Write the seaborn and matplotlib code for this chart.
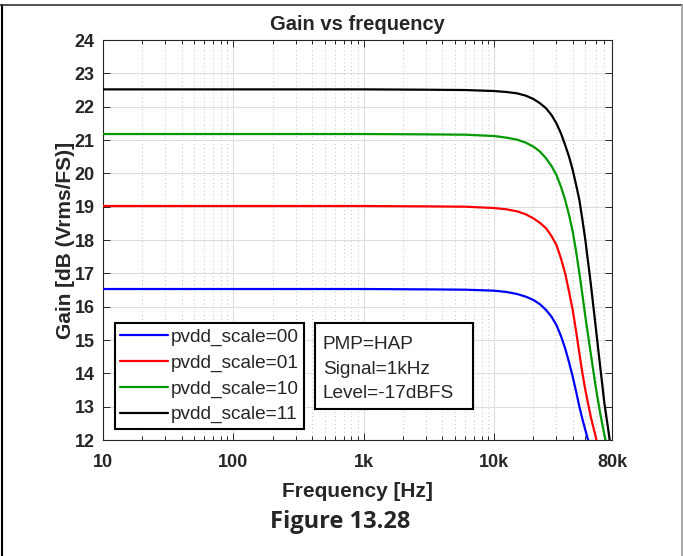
import numpy as np
import pandas as pd
import matplotlib.pyplot as plt
import matplotlib.ticker as mticker
from matplotlib.lines import Line2D
from matplotlib.patches import Rectangle
import seaborn as sns

# Data
freq = [10, 1000, 3000, 6000, 10000, 12500, 15000, 17500, 20000, 22500, 25000,
        27500, 30000, 32500, 35000, 37500, 40000, 42500, 45000, 47500, 50000,
        55000, 60000, 65000, 70000, 75000, 80000]
gain_00 = [16.53, 16.53, 16.52, 16.51, 16.48, 16.44, 16.38, 16.30, 16.20, 16.07, 15.90,
           15.70, 15.45, 15.12, 14.75, 14.33, 13.90, 13.45, 13.00, 12.62, 12.30,
           11.70, 11.20, 10.80, 10.40, 10.00, 9.70]
gain_01 = [19.02, 19.02, 19.01, 19.00, 18.96, 18.92, 18.86, 18.77, 18.65, 18.51, 18.35,
           18.12, 17.85, 17.45, 17.00, 16.45, 15.90, 15.25, 14.60, 14.00, 13.50,
           12.70, 12.10, 11.50, 11.00, 10.60, 10.20]
gain_10 = [21.18, 21.18, 21.17, 21.16, 21.12, 21.07, 21.01, 20.92, 20.80, 20.65, 20.45,
           20.22, 19.95, 19.60, 19.20, 18.75, 18.25, 17.65, 17.00, 16.35, 15.70,
           14.60, 13.60, 12.80, 12.15, 11.60, 11.10]
gain_11 = [22.52, 22.52, 22.51, 22.50, 22.47, 22.44, 22.40, 22.33, 22.23, 22.10, 21.95,
           21.75, 21.50, 21.20, 20.85, 20.50, 20.10, 19.65, 19.20, 18.60, 18.00,
           16.70, 15.40, 14.20, 13.10, 12.30, 11.50]
series = ["pvdd_scale=00", "pvdd_scale=01", "pvdd_scale=10", "pvdd_scale=11"]
colors = ["#0000ff", "#ff0000", "#009900", "#000000"]
info_lines = ["PMP=HAP", "Signal=1kHz", "Level=-17dBFS"]
xticks = [10, 100, 1000, 10000, 80000]
xtick_labels = ["10", "100", "1k", "10k", "80k"]

df = pd.DataFrame({
    "freq": freq * 4,
    "gain": gain_00 + gain_01 + gain_10 + gain_11,
    "series": np.repeat(series, len(freq)),
})

sns.set_theme(style="ticks")
plt.rcParams["font.family"] = ["Liberation Sans", "DejaVu Sans"]

fig = plt.figure(figsize=(6.83, 5.56), dpi=100)
ax = fig.add_axes([0.1508, 0.2086, 0.7452, 0.7194])

sns.lineplot(data=df, x="freq", y="gain", hue="series", palette=colors,
             linewidth=1.6, ax=ax, legend=False, zorder=3)

ax.set_xscale("log")
ax.set_xlim(10, 80000)
ax.set_ylim(12, 24)
ax.set_xticks(xticks)
ax.set_xticklabels(xtick_labels)
ax.xaxis.set_minor_locator(mticker.LogLocator(base=10, subs=np.arange(2, 10)))
ax.xaxis.set_minor_formatter(mticker.NullFormatter())
ax.set_yticks(range(12, 25))

# MATLAB style box, grid and ticks
ax.grid(True, which="major", color="#dedede", linewidth=0.8, linestyle="-")
ax.grid(True, which="minor", axis="x", color="#c4c4c4", linewidth=0.7, linestyle=(0, (1, 3)))
for s in ax.spines.values():
    s.set_visible(True)
    s.set_color("#262626")
    s.set_linewidth(0.8)
ax.tick_params(which="both", direction="in", top=True, right=True, color="#262626", width=0.7)
ax.tick_params(which="major", length=5)
ax.tick_params(which="minor", length=3)
ax.tick_params(axis="x", which="major", pad=10, labelsize=13, labelcolor="#262626")
ax.tick_params(axis="y", which="major", pad=6, labelsize=13, labelcolor="#262626")
for lbl in ax.get_xticklabels() + ax.get_yticklabels():
    lbl.set_fontweight("bold")

ax.set_title("Gain vs frequency", fontsize=14.5, fontweight="bold", pad=7)
ax.set_xlabel("Frequency [Hz]", fontsize=15, fontweight="bold", color="#262626", labelpad=8)
ax.set_ylabel("Gain [dB (Vrms/FS)]", fontsize=15, fontweight="bold", color="#262626", labelpad=0)

handles = [Line2D([0], [0], color=c, linewidth=1.6) for c in colors]
leg = ax.legend(handles, series, loc="upper left", bbox_to_anchor=(0.0236, 0.2925),
                borderaxespad=0, fontsize=13.7, handlelength=2.5, handletextpad=0.15,
                labelspacing=0.44, borderpad=0.28, fancybox=False, framealpha=1)
leg.get_frame().set_edgecolor("black")
leg.get_frame().set_linewidth(1.5)
leg.set_zorder(5)

# info box
ax.add_patch(Rectangle((0.4165, 0.0775), 0.3104, 0.215, transform=ax.transAxes,
                       facecolor="white", edgecolor="black", linewidth=1.5, zorder=5))
ax.text(0.432, 0.26, "\n".join(info_lines), transform=ax.transAxes, fontsize=13.7,
        va="top", ha="left", linespacing=1.58, zorder=6)

fig.text(0.498, 0.061, "Figure 13.28", ha="center", va="center", fontsize=17,
         fontweight="bold", family=["Open Sans", "DejaVu Sans"])

# outer frame
fig.add_artist(Line2D([0.003, 0.003], [0, 0.991], color="black", linewidth=1.5))
fig.add_artist(Line2D([0, 0.998], [0.991, 0.991], color="#333333", linewidth=1.2))
fig.add_artist(Line2D([0.998, 0.998], [0, 0.991], color="#999999", linewidth=1.2))

fig.savefig("out.png", dpi=100)
